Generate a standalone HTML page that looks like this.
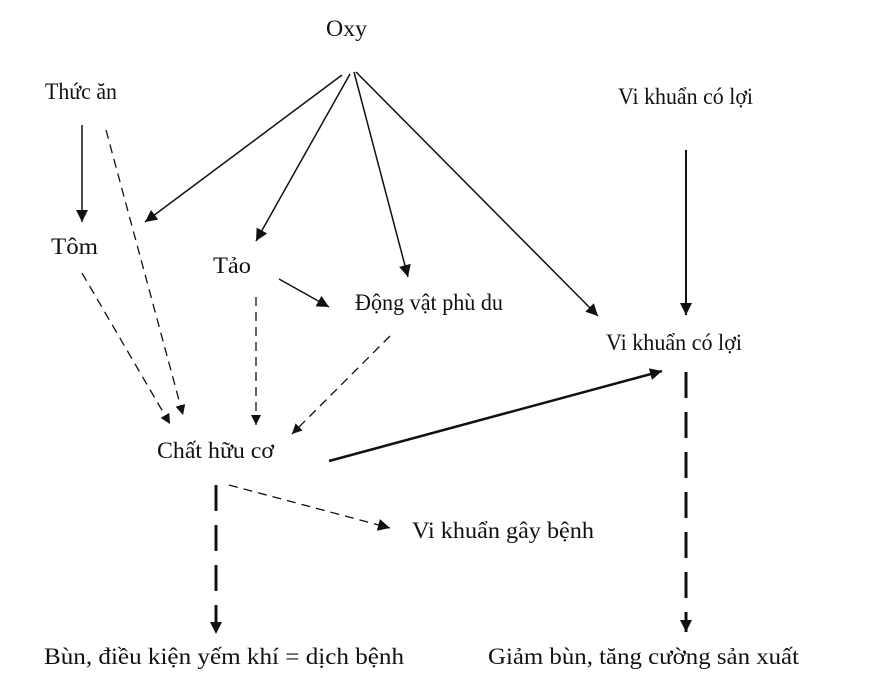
<!DOCTYPE html>
<html><head><meta charset="utf-8"><style>
html,body{margin:0;padding:0;background:#fff;}
svg{display:block;}
text{font-family:"Liberation Serif",serif;font-size:23px;fill:#111;}
</style></head><body>
<svg width="895" height="680" viewBox="0 0 895 680" xmlns="http://www.w3.org/2000/svg">
<defs>
<marker id="a" viewBox="0 0 10 10" refX="10" refY="5" markerWidth="10" markerHeight="10" markerUnits="userSpaceOnUse" orient="auto"><path d="M0,0 L10,5 L0,10 z" fill="#111"/></marker>
<marker id="b" viewBox="0 0 10 10" refX="10" refY="5" markerWidth="13" markerHeight="12" markerUnits="userSpaceOnUse" orient="auto"><path d="M0,0 L10,5 L0,10 z" fill="#111"/></marker>
</defs>
<g stroke="#111" fill="none">
<line x1="82" y1="125" x2="82" y2="222" stroke-width="1.5" marker-end="url(#b)"/>
<line x1="106" y1="130" x2="183" y2="415" stroke-width="1.3" stroke-dasharray="9,6" marker-end="url(#a)"/>
<line x1="342" y1="75" x2="145" y2="222" stroke-width="1.5" marker-end="url(#b)"/>
<line x1="350" y1="74" x2="256" y2="241" stroke-width="1.5" marker-end="url(#b)"/>
<line x1="354" y1="72" x2="408" y2="277" stroke-width="1.5" marker-end="url(#b)"/>
<line x1="356" y1="72" x2="598" y2="316" stroke-width="1.5" marker-end="url(#b)"/>
<line x1="82" y1="273" x2="170" y2="424" stroke-width="1.3" stroke-dasharray="9,6" marker-end="url(#a)"/>
<line x1="279" y1="279" x2="329" y2="307" stroke-width="1.5" marker-end="url(#b)"/>
<line x1="256" y1="297" x2="256" y2="425" stroke-width="1.3" stroke-dasharray="9,6" marker-end="url(#a)"/>
<line x1="390" y1="336" x2="292" y2="434" stroke-width="1.3" stroke-dasharray="9,6" marker-end="url(#a)"/>
<line x1="329" y1="461" x2="662" y2="371" stroke-width="2.5" marker-end="url(#b)"/>
<line x1="686" y1="150" x2="686" y2="315" stroke-width="2" marker-end="url(#b)"/>
<line x1="686" y1="372" x2="686" y2="632" stroke-width="3" stroke-dasharray="26,14" marker-end="url(#b)"/>
<line x1="216" y1="485" x2="216" y2="634" stroke-width="3" stroke-dasharray="26,14" marker-end="url(#b)"/>
<line x1="229" y1="485" x2="390" y2="528" stroke-width="1.3" stroke-dasharray="9,6" marker-end="url(#b)"/>
</g>
<text x="326" y="36" textLength="41" lengthAdjust="spacingAndGlyphs">Oxy</text>
<text x="45" y="99" textLength="72" lengthAdjust="spacingAndGlyphs">Thức ăn</text>
<text x="51" y="254" textLength="47" lengthAdjust="spacingAndGlyphs">Tôm</text>
<text x="213" y="273" textLength="38" lengthAdjust="spacingAndGlyphs">Tảo</text>
<text x="355" y="310" textLength="148" lengthAdjust="spacingAndGlyphs">Động vật phù du</text>
<text x="157" y="458" textLength="117" lengthAdjust="spacingAndGlyphs">Chất hữu cơ</text>
<text x="412" y="538" textLength="182" lengthAdjust="spacingAndGlyphs">Vi khuẩn gây bệnh</text>
<text x="618" y="104" textLength="135" lengthAdjust="spacingAndGlyphs">Vi khuẩn có lợi</text>
<text x="606" y="350" textLength="136" lengthAdjust="spacingAndGlyphs">Vi khuẩn có lợi</text>
<text x="44" y="664" textLength="360" lengthAdjust="spacingAndGlyphs">Bùn, điều kiện yếm khí = dịch bệnh</text>
<text x="488" y="664" textLength="311" lengthAdjust="spacingAndGlyphs">Giảm bùn, tăng cường sản xuất</text>
</svg>
</body></html>
